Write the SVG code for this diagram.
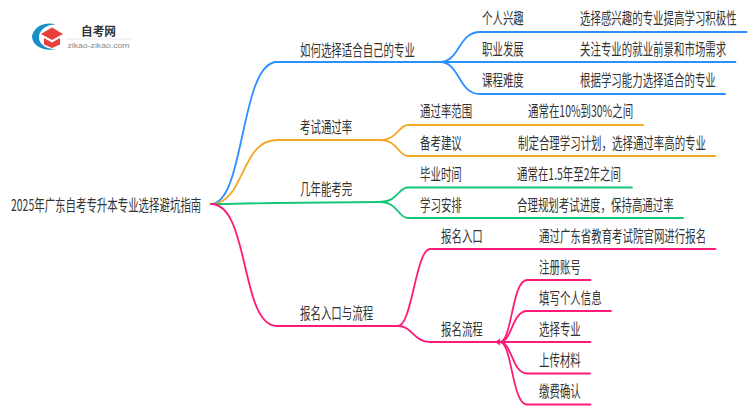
<svg xmlns="http://www.w3.org/2000/svg" width="750" height="410" viewBox="0 0 750 410">
<style>
text{font-family:"Noto Sans CJK SC","Noto Sans",sans-serif;font-size:10.45px;fill:#333;dominant-baseline:central}
.e{fill:none;stroke-width:1.8;stroke-linecap:round}
.b{stroke:#2a8fff}.o{stroke:#f5a825}.g{stroke:#12c777}.p{stroke:#ff1a78}
</style>
<rect width="750" height="410" fill="#fff"/>
<g id="logo">
<path d="M56 24.500C48 22 35 24 32 36C32 46 44 52 56 49C47 50 38 44 39 36C40 29 48 24 56 24.500Z" fill="#1a8fc8"/>
<path d="M41 34L52 27.500L63 34L52 40Z" fill="#e8403a"/>
<path d="M44 38L52 42.500L60 38V44.500L52 48L44 44.500Z" fill="#e8403a"/>
<text x="81" y="30.500" textLength="35" lengthAdjust="spacingAndGlyphs" style="font-size:12px;font-weight:700">自考网</text>
<path d="M66 39H131" stroke="#e6e6e6" fill="none"/>
<text x="67.500" y="45" textLength="62" lengthAdjust="spacingAndGlyphs" style="font-size:8px;font-family:'Liberation Sans',sans-serif;fill:#888">zikao-zikao.com</text>
</g>
<g id="connectors">
<path class="e b" d="M211 204C245 204 240 62 277 62H440"/>
<path class="e b" d="M440 62C460 62 458 32 480 32H746.500"/>
<path class="e b" d="M440 62H735.500"/>
<path class="e b" d="M440 62C460 62 458 94 480 94H725"/>
<path class="e o" d="M211 204C245 204 240 140 277 140H380"/>
<path class="e o" d="M380 140C398 140 398 125 408 125H643"/>
<path class="e o" d="M380 140C398 140 398 156 408 156H715.500"/>
<path class="e g" d="M211 204C240 204 250 203 277 203L380 202"/>
<path class="e g" d="M380 202C398 202 398 187.500 408 187.500H632"/>
<path class="e g" d="M380 202C398 202 398 218 408 218H683"/>
<path class="e p" d="M211 204C250 204 240 326 277 326H398"/>
<path class="e p" d="M398 326C412 326 416 249 430 249H715.500"/>
<path class="e p" d="M398 326C412 326 414 342 430 342H500"/>
<path class="e p" d="M500 342C512 342 512 280 527 280H590.500"/>
<path class="e p" d="M500 342C512 342 512 311 527 311H611"/>
<path class="e p" d="M500 342H590.500"/>
<path class="e p" d="M500 342C512 342 512 373.500 527 373.500H590"/>
<path class="e p" d="M500 342C512 342 512 404.500 527 404.500H590.500"/>
<path d="M495 342L500 338.500V345.500Z" fill="#ff1a78"/>
</g>
<g id="root"><text transform="translate(11 205) scale(1 1.5)">2025年广东自考专升本专业选择避坑指南</text></g>
<g id="n1"><text transform="translate(300 50) scale(1 1.5)">如何选择适合自己的专业</text></g>
<g id="n1-1"><text transform="translate(482 18) scale(1 1.5)">个人兴趣</text></g>
<g id="n1-1-1"><text transform="translate(580 18) scale(1 1.5)">选择感兴趣的专业提高学习积极性</text></g>
<g id="n1-2"><text transform="translate(482 49) scale(1 1.5)">职业发展</text></g>
<g id="n1-2-1"><text transform="translate(580 49) scale(1 1.5)">关注专业的就业前景和市场需求</text></g>
<g id="n1-3"><text transform="translate(482 80) scale(1 1.5)">课程难度</text></g>
<g id="n1-3-1"><text transform="translate(580 80) scale(1 1.5)">根据学习能力选择适合的专业</text></g>
<g id="n2"><text transform="translate(300 127) scale(1 1.5)">考试通过率</text></g>
<g id="n2-1"><text transform="translate(420 111) scale(1 1.5)">通过率范围</text></g>
<g id="n2-1-1"><text transform="translate(528 111) scale(1 1.5)">通常在10%到30%之间</text></g>
<g id="n2-2"><text transform="translate(420 143) scale(1 1.5)">备考建议</text></g>
<g id="n2-2-1"><text transform="translate(518 143) scale(1 1.5)">制定合理学习计划，选择通过率高的专业</text></g>
<g id="n3"><text transform="translate(300 189) scale(1 1.5)">几年能考完</text></g>
<g id="n3-1"><text transform="translate(420 174) scale(1 1.5)">毕业时间</text></g>
<g id="n3-1-1"><text transform="translate(517 174) scale(1 1.5)">通常在1.5年至2年之间</text></g>
<g id="n3-2"><text transform="translate(420 205) scale(1 1.5)">学习安排</text></g>
<g id="n3-2-1"><text transform="translate(517 205) scale(1 1.5)">合理规划考试进度，保持高通过率</text></g>
<g id="n4"><text transform="translate(300 313) scale(1 1.5)">报名入口与流程</text></g>
<g id="n4-1"><text transform="translate(441 236) scale(1 1.5)">报名入口</text></g>
<g id="n4-1-1"><text transform="translate(539 236) scale(1 1.5)">通过广东省教育考试院官网进行报名</text></g>
<g id="n4-2"><text transform="translate(441 329) scale(1 1.5)">报名流程</text></g>
<g id="n4-2-1"><text transform="translate(539 267) scale(1 1.5)">注册账号</text></g>
<g id="n4-2-2"><text transform="translate(539 298) scale(1 1.5)">填写个人信息</text></g>
<g id="n4-2-3"><text transform="translate(539 329) scale(1 1.5)">选择专业</text></g>
<g id="n4-2-4"><text transform="translate(539 360) scale(1 1.5)">上传材料</text></g>
<g id="n4-2-5"><text transform="translate(539 391) scale(1 1.5)">缴费确认</text></g>
</svg>
